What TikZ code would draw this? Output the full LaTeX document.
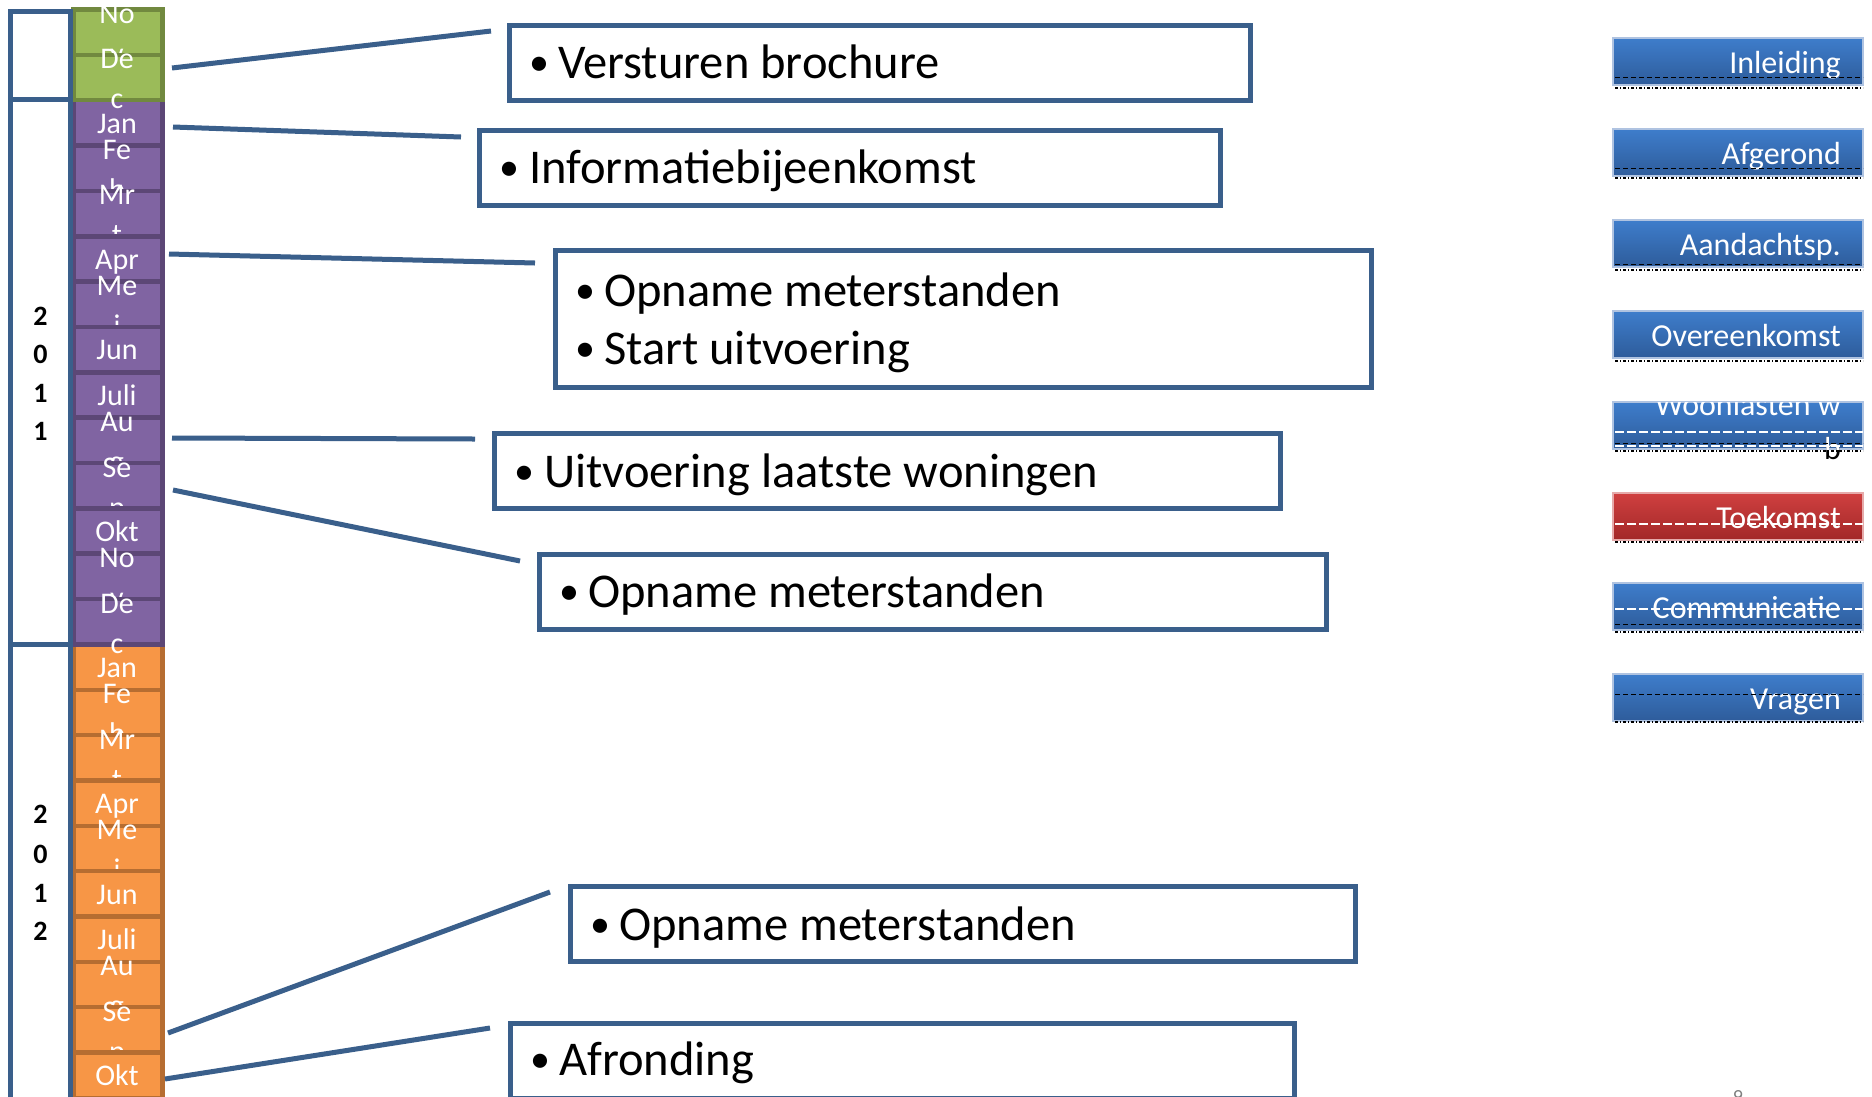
\documentclass[tikz,border=0pt]{standalone}
\usepackage{fontspec}
\setmainfont{Carlito}
\definecolor{frame}{RGB}{58,95,139}
\definecolor{grfill}{RGB}{155,187,89}
\definecolor{grline}{RGB}{113,137,63}
\definecolor{pufill}{RGB}{128,100,162}
\definecolor{puline}{RGB}{92,71,118}
\definecolor{orfill}{RGB}{247,150,70}
\definecolor{orline}{RGB}{182,109,49}
\definecolor{btop}{RGB}{62,125,203}
\definecolor{bbot}{RGB}{46,92,155}
\definecolor{rtop}{RGB}{208,64,64}
\definecolor{rbot}{RGB}{162,40,40}
\definecolor{bedge}{RGB}{175,195,225}
\definecolor{redge}{RGB}{230,170,170}
\tikzset{
  grcell/.style={fill=grfill,draw=grline,line width=4.5pt},
  pucell/.style={fill=pufill,draw=puline,line width=4.5pt},
  orcell/.style={fill=orfill,draw=orline,line width=4.5pt},
  mtxt/.style={anchor=base,text=white,inner sep=0pt,font=\fontsize{30}{36}\selectfont},
  ytxt/.style={anchor=base,inner sep=0pt,font=\fontsize{28}{34}\selectfont\bfseries},
  yearbox/.style={draw=frame,line width=5pt},
  cbox/.style={draw=frame,line width=5pt,fill=white,inner sep=0pt},
  bul/.style={anchor=base,inner sep=0pt,font=\fontsize{40}{48}\selectfont},
  ctxt/.style={anchor=base west,inner sep=0pt,font=\fontsize{48.5}{58}\selectfont},
  conn/.style={draw=frame,line width=5pt},
  btn/.style={minimum width=250pt,minimum height=47pt,inner sep=0pt,draw=bedge,line width=1.2pt,top color=btop,bottom color=bbot},
  rbtn/.style={minimum width=250pt,minimum height=47pt,inner sep=0pt,draw=redge,line width=1.2pt,top color=rtop,bottom color=rbot},
  btxt/.style={anchor=base east,inner sep=0pt,text=white,font=\fontsize{32}{38}\selectfont},
  uline/.style={draw=black,line width=0.8pt,dash pattern=on 5pt off 3pt},
  wline/.style={draw=white,line width=1.2pt,dash pattern=on 9pt off 3pt},
  dline/.style={draw=black,line width=1.8pt,dash pattern=on 3pt off 2pt on 1pt off 2pt},
}
\newcommand\mcellone[4]{%
  \pgfmathsetmacro\yt{9.5+#2*45.35}%
  \pgfmathsetmacro\yb{\yt+45.35}%
  \draw[#3] (73.5,\yt) rectangle (162.5,\yb);
  \node[mtxt] (#1) at (117,\yt+33) {#4};
}
\newcommand\mcelltwo[5]{%
  \pgfmathsetmacro\yt{9.5+#2*45.35}%
  \pgfmathsetmacro\yb{\yt+45.35}%
  \draw[#3] (73.5,\yt) rectangle (162.5,\yb);
  \node[mtxt] (#1) at (117,\yt+14) {#4};
  \node[mtxt] (#1b) at (117,\yt+54) {#5};
}
\begin{document}
\begin{tikzpicture}[x=1pt,y=-1pt]
\useasboundingbox[fill=white] (0,0) rectangle (1872,1096);

% ---- orange 2012 ----
\mcellone{o14}{14}{orcell}{Jan}
\mcelltwo{o15}{15}{orcell}{Fe}{b}
\mcelltwo{o16}{16}{orcell}{Mr}{t}
\mcellone{o17}{17}{orcell}{Apr}
\mcelltwo{o18}{18}{orcell}{Me}{i}
\mcellone{o19}{19}{orcell}{Jun}
\mcellone{o20}{20}{orcell}{Juli}
\mcelltwo{o21}{21}{orcell}{Au}{g}
\mcelltwo{o22}{22}{orcell}{Se}{p}
\mcellone{o23}{23}{orcell}{Okt}
% ---- purple 2011 ----
\mcellone{p2}{2}{pucell}{Jan}
\mcelltwo{p3}{3}{pucell}{Fe}{b}
\mcelltwo{p4}{4}{pucell}{Mr}{t}
\mcellone{p5}{5}{pucell}{Apr}
\mcelltwo{p6}{6}{pucell}{Me}{i}
\mcellone{p7}{7}{pucell}{Jun}
\mcellone{p8}{8}{pucell}{Juli}
\mcelltwo{p9}{9}{pucell}{Au}{g}
\mcelltwo{p10}{10}{pucell}{Se}{p}
\mcellone{p11}{11}{pucell}{Okt}
\mcelltwo{p12}{12}{pucell}{No}{v}
\mcelltwo{p13}{13}{pucell}{De}{c}
% ---- green 2010 ----
\mcelltwo{g0}{0}{grcell}{No}{v}
\mcelltwo{g1}{1}{grcell}{De}{c}

% ---- year boxes ----
\draw[yearbox] (10.5,11) rectangle (70.5,99.5);
\draw[yearbox] (10.5,99.5) rectangle (70.5,644.5);
\draw[yearbox] (10.5,644.5) rectangle (70.5,1110);
\node[ytxt] (y1a) at (40.5,325) {2};
\node[ytxt] (y1b) at (40.5,363) {0};
\node[ytxt] (y1c) at (40.5,402) {1};
\node[ytxt] (y1d) at (40.5,440) {1};
\node[ytxt] (y2a) at (40.5,823) {2};
\node[ytxt] (y2b) at (40.5,863) {0};
\node[ytxt] (y2c) at (40.5,902) {1};
\node[ytxt] (y2d) at (40.5,940) {2};

% ---- callout boxes ----
\node[cbox,minimum width=741pt,minimum height=75pt] (b1) at (880,63) {};
\node[cbox,minimum width=741pt,minimum height=75pt] (b2) at (850,168) {};
\node[cbox,minimum width=816pt,minimum height=137pt] (b3) at (963.5,319) {};
\node[cbox,minimum width=786pt,minimum height=75pt] (b4) at (887.5,471) {};
\node[cbox,minimum width=787pt,minimum height=75pt] (b5) at (933,592) {};
\node[cbox,minimum width=785pt,minimum height=75pt] (b6) at (963,924) {};
\node[cbox,minimum width=784pt,minimum height=75pt] (b7) at (902.5,1061) {};

\node[bul] (u1) at (539.5,75.5) {•};
\node[ctxt] (t1) at (558,78) {Versturen brochure};
\node[bul] (u2) at (509.5,180.5) {•};
\node[ctxt] (t2) at (529,183) {Informatiebijeenkomst};
\node[bul] (u3a) at (585.5,303.5) {•};
\node[ctxt] (t3a) at (604,306) {Opname meterstanden};
\node[bul] (u3b) at (585.5,361.5) {•};
\node[ctxt] (t3b) at (604,364) {Start uitvoering};
\node[bul] (u4) at (524.5,484.5) {•};
\node[ctxt] (t4) at (544,487) {Uitvoering laatste woningen};
\node[bul] (u5) at (569.5,604.5) {•};
\node[ctxt] (t5) at (588,607) {Opname meterstanden};
\node[bul] (u6) at (600.5,937.5) {•};
\node[ctxt] (t6) at (619,940) {Opname meterstanden};
\node[bul] (u7) at (540.5,1072.5) {•};
\node[ctxt] (t7) at (559,1075) {Afronding};

% ---- connectors ----
\coordinate (c1a) at (172,68);   \coordinate (c1b) at (491,31);
\coordinate (c2a) at (173,127);  \coordinate (c2b) at (461,137);
\coordinate (c3a) at (169,254);  \coordinate (c3b) at (535,263);
\coordinate (c4a) at (172,438);  \coordinate (c4b) at (475,439);
\coordinate (c5a) at (173,490);  \coordinate (c5b) at (520,561);
\coordinate (c6a) at (168,1033); \coordinate (c6b) at (550,892);
\coordinate (c7a) at (165,1079); \coordinate (c7b) at (490,1028);
\draw[conn] (c1a) -- (c1b);
\draw[conn] (c2a) -- (c2b);
\draw[conn] (c3a) -- (c3b);
\draw[conn] (c4a) -- (c4b);
\draw[conn] (c5a) -- (c5b);
\draw[conn] (c6a) -- (c6b);
\draw[conn] (c7a) -- (c7b);

% ---- right buttons ----
\node[btn] (n1) at (1738,61.5) {};
\node[btxt] (n1t) at (1841,73) {Inleiding};
\node[btn] (n2) at (1738,152.5) {};
\node[btxt] (n2t) at (1841,164) {Afgerond};
\node[btn] (n3) at (1738,243.5) {};
\node[btxt] (n3t) at (1841,255) {Aandachtsp.};
\node[btn] (n4) at (1738,334.5) {};
\node[btxt] (n4t) at (1841,346) {Overeenkomst};
\node[btn] (n5) at (1738,425.5) {};
\begin{scope}
  \clip (1613,402) rectangle (1863,449);
  \node[btxt] (n5t) at (1841,415) {Woonlasten w};
\end{scope}
\node[btxt,text=black] (n5b) at (1841,459) {b};
\begin{scope}
  \clip (1613,402) rectangle (1863,449);
  \node[btxt] (n5w) at (1841,459) {b};
\end{scope}
\node[rbtn] (n6) at (1738,516.5) {};
\node[btxt] (n6t) at (1841,528) {Toekomst};
\node[btn] (n7) at (1738,606.5) {};
\node[btxt] (n7t) at (1841,618) {Communicatie};
\node[btn] (n8) at (1738,697.5) {};
\node[btxt] (n8t) at (1841,709) {Vragen};

% underline marks
\draw[uline] (1615,77) -- (1863,77);
\draw[dline] (1615,88) -- (1863,88);
\draw[uline] (1615,168) -- (1863,168);
\draw[dline] (1615,178) -- (1863,178);
\draw[uline] (1615,264) -- (1863,264);
\draw[dline] (1615,270) -- (1863,270);
\draw[dline] (1615,361) -- (1863,361);
\draw[wline] (1615,432) -- (1863,432);
\draw[uline] (1615,443) -- (1863,443);
\draw[wline] (1615,446) -- (1863,446);
\draw[dline] (1615,451) -- (1863,451);
\draw[wline] (1615,524) -- (1863,524);
\draw[dline] (1615,542) -- (1863,542);
\draw[wline] (1615,609) -- (1863,609);
\draw[uline] (1615,624) -- (1863,624);
\draw[dline] (1615,632) -- (1863,632);
\draw[uline] (1615,694) -- (1863,694);
\draw[dline] (1615,722) -- (1863,722);

% page number (cut off)
\node[anchor=north,inner sep=0pt,text=gray,font=\fontsize{20}{24}\selectfont] (pg) at (1738,1090) {9};
\end{tikzpicture}
\end{document}
